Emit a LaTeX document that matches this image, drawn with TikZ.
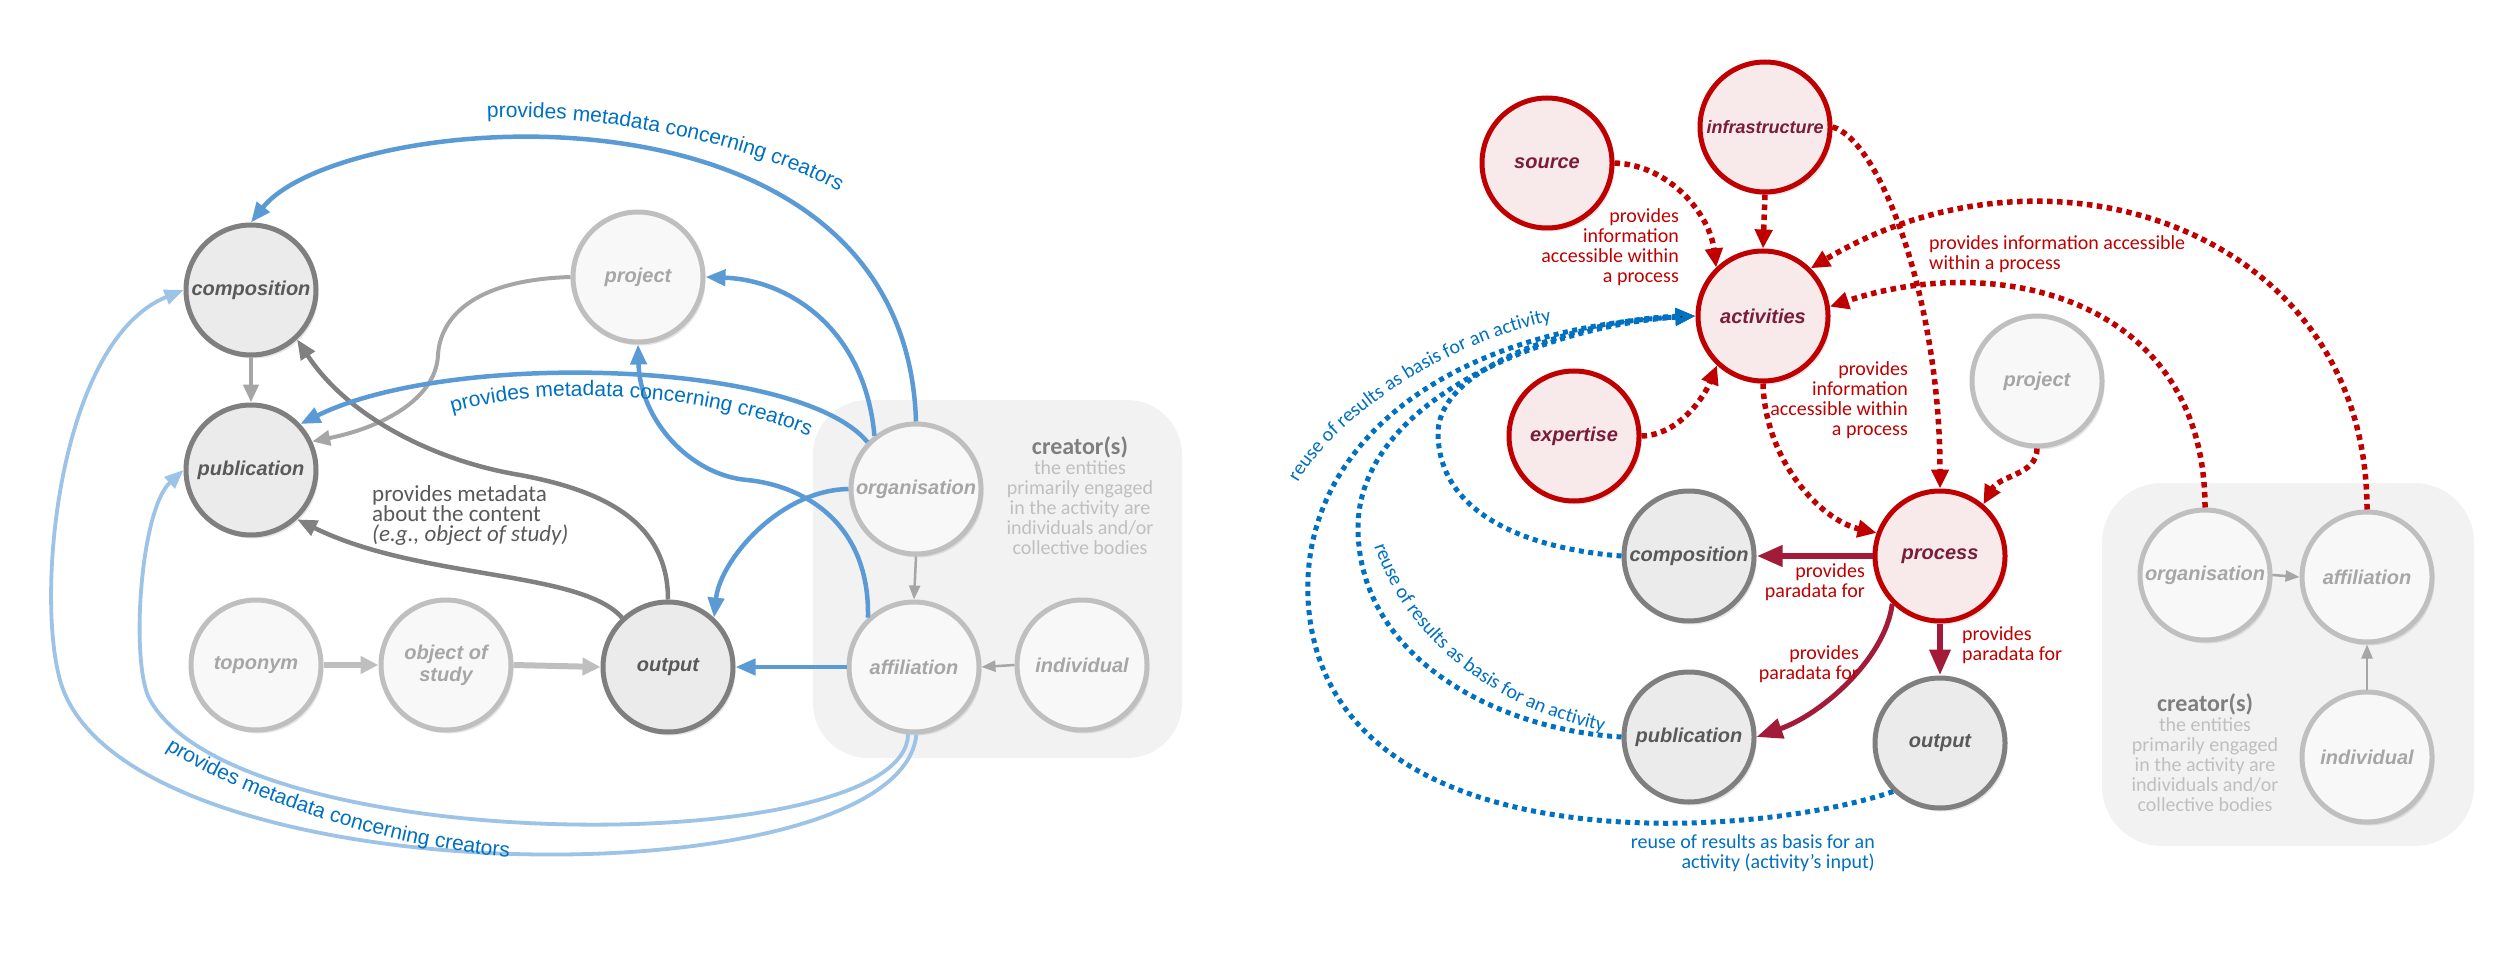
\documentclass[tikz,border=0pt]{standalone}
\usepackage{fontspec}
\setmainfont{Carlito}
\newfontfamily\arialf{Liberation Sans}
\usetikzlibrary{arrows.meta,shadows,decorations.text}
\definecolor{dgS}{HTML}{7F7F7F}
\definecolor{dgF}{HTML}{EBEBEB}
\definecolor{dgT}{HTML}{595959}
\definecolor{lgS}{HTML}{BFBFBF}
\definecolor{lgF}{HTML}{F8F8F8}
\definecolor{lgT}{HTML}{A6A6A6}
\definecolor{rdS}{HTML}{C00000}
\definecolor{rdF}{HTML}{F8EAEA}
\definecolor{rdT}{HTML}{7A1C3B}
\definecolor{mrn}{HTML}{A21C3A}
\definecolor{blueM}{HTML}{5B9BD5}
\definecolor{blueL}{HTML}{9DC3E6}
\definecolor{blueT}{HTML}{0070C0}
\definecolor{blueD}{HTML}{0070C0}
\definecolor{boxF}{HTML}{F2F2F2}
\definecolor{gA}{HTML}{A6A6A6}
\definecolor{gB}{HTML}{808080}
\newcommand\mynodefont{\arialf\bfseries\itshape\fontsize{20}{22}\selectfont}
\newcommand\mylab{\fontsize{20}{20}\selectfont}
\begin{document}
\begin{tikzpicture}[x=1pt,y=-1pt,
  nd/.style={circle, minimum size=130pt, inner sep=0pt, line width=5pt, font=\mynodefont, align=center,
    drop shadow={shadow xshift=2.5pt,shadow yshift=-3.5pt,opacity=.22,fill=black!45}},
  darknd/.style={nd, draw=dgS, fill=dgF, text=dgT},
  lightnd/.style={nd, draw=lgS, fill=lgF, text=lgT},
  rednd/.style={nd, draw=rdS, fill=rdF, text=rdT},
  bl/.style={draw=blueM, line width=4.5pt, -{Triangle[length=20pt,width=16pt]}},
  lbl/.style={draw=blueL, line width=3.8pt, -{Triangle[length=19pt,width=15pt]}},
  gl/.style={draw=gA, line width=4.5pt, -{Triangle[length=18pt,width=15pt]}},
  dg/.style={draw=gB, line width=4.5pt, -{Triangle[length=20pt,width=16pt]}},
  tg/.style={draw=lgS, line width=6pt, -{Triangle[length=18pt,width=17pt]}},
  thg/.style={draw=gA, line width=2.5pt, -{Triangle[length=14pt,width=11pt]}},
  rd/.style={draw=rdS, line width=5.5pt, dash pattern=on 5.5pt off 4.5pt, -{Triangle[length=19pt,width=17pt]}},
  bd/.style={draw=blueD, line width=5pt, dash pattern=on 5pt off 4.5pt, -{Triangle[length=20pt,width=16pt]}},
  mr/.style={draw=mrn, line width=6.5pt, -{Triangle[length=26pt,width=20pt]}},
  rlab/.style={font=\mylab, text=rdS, inner sep=0pt},
  blab/.style={font=\mylab, text=blueT, inner sep=0pt}
]
\fill[white] (0,0) rectangle (2510,965);
\useasboundingbox (0,0) rectangle (2510,965);

% ---------------- LEFT DIAGRAM ----------------
\fill[boxF, rounded corners=55pt] (813,400) rectangle (1182,758);
\node[font=\fontsize{20}{20}\selectfont, text=lgS, align=center, anchor=north, inner sep=0pt] (lcr) at (1080,436)
  {{\fontsize{24}{20}\selectfont\bfseries\color{dgS}creator(s)}\\the entities\\primarily engaged\\in the activity are\\individuals and/or\\collective bodies};

\node[darknd] (comp) at (251,290) {composition};
\node[darknd] (pub) at (251,470) {publication};
\node[lightnd] (proj) at (638,277) {project};
\node[lightnd] (org) at (916,489) {organisation};
\node[lightnd] (aff) at (914,667) {affiliation};
\node[lightnd] (ind) at (1082,665) {individual};
\node[lightnd] (top) at (256,665) {toponym};
\node[lightnd] (obj) at (446,665) {object of\\study};
\node[darknd] (out) at (668,667) {output};

% grey connectors
\draw[gl] (comp.south) -- (pub.north);
\draw[gl, line width=4pt] (proj.west) .. controls (470,280) and (440,320) .. (438,355) .. controls (436,400) and (380,428) .. (pub.25);
\draw[dg] (out.north) .. controls (668,520) and (600,490) .. (520,475) .. controls (440,462) and (350,420) .. (comp.-47);
\draw[dg] (out.133) .. controls (580,570) and (420,580) .. (pub.-47);
\draw[tg] (top.east) -- (obj.west);
\draw[tg] (obj.east) -- (out.west);
\draw[thg] (org.south) -- (aff.north);
\draw[thg] (ind.west) -- (aff.east);

% blue connectors
\draw[bl] (org.north) .. controls (905,60) and (340,110) .. (comp.north);
\draw[bl] (org.128) .. controls (865,330) and (790,280) .. (proj.east);
\draw[bl] (org.136) .. controls (800,360) and (450,350) .. (pub.43);
\draw[bl] (org.west) .. controls (780,490) and (720,560) .. (out.47);
\draw[bl] (aff.133) .. controls (870,520) and (800,485) .. (747,480) .. controls (690,475) and (640,420) .. (proj.south);
\draw[bl] (aff.west) -- (out.east);
\draw[lbl] (aff.-95) .. controls (905,860) and (240,860) .. (150,700) .. controls (130,664) and (140,510) .. (pub.west);
\draw[lbl] (aff.-88) .. controls (900,905) and (120,900) .. (60,680) .. controls (35,590) and (60,340) .. (comp.west);

% left labels
\node[font=\fontsize{23}{20}\selectfont, text=dgT, align=left, anchor=north west, inner sep=0pt] (lann) at (372,485)
  {provides metadata\\about the content\\\textit{(e.g., object of study)}};
\path[decorate, decoration={text along path, text align=center, text color=blueT,
  text={|\arialf\fontsize{21}{21}\selectfont|provides metadata concerning creators}}]
  (480,118) .. controls (600,112) and (760,145) .. (845,195);
\path[decorate, decoration={text along path, text align=center, text color=blueT,
  text={|\arialf\fontsize{21}{21}\selectfont|provides metadata concerning creators}}]
  (428,420) .. controls (530,382) and (710,388) .. (832,446);
\path[decorate, decoration={text along path, text align=center, text color=blueT,
  text={|\arialf\fontsize{21}{21}\selectfont|provides metadata concerning creators}}]
  (150,738) .. controls (220,792) and (390,852) .. (528,858);

% ---------------- RIGHT DIAGRAM ----------------
\fill[boxF, rounded corners=60pt] (2102,483) rectangle (2474,846);
\node[font=\fontsize{20}{20}\selectfont, text=lgS, align=center, anchor=north, inner sep=0pt] (rcr) at (2205,693)
  {{\fontsize{24}{20}\selectfont\bfseries\color{dgS}creator(s)}\\the entities\\primarily engaged\\in the activity are\\individuals and/or\\collective bodies};

\node[rednd] (src) at (1547,163) {source};
\node[rednd, font=\arialf\bfseries\itshape\fontsize{18}{20}\selectfont] (inf) at (1765,127) {infrastructure};
\node[rednd] (act) at (1763,316) {activities};
\node[rednd] (exp) at (1574,436) {expertise};
\node[lightnd] (rproj) at (2037,381) {project};
\node[darknd] (rcomp) at (1689,556) {composition};
\node[rednd] (proc) at (1940,556) {process};
\node[darknd] (rpub) at (1689,737) {publication};
\node[darknd] (rout) at (1940,743) {output};
\node[lightnd] (rorg) at (2205,575) {organisation};
\node[lightnd] (raff) at (2367,577) {affiliation};
\node[lightnd] (rind) at (2367,757) {individual};

\draw[thg] (rorg.east) -- (raff.west);
\draw[thg] (rind.north) -- (raff.south);

% red dotted
\draw[rd] (src.east) .. controls (1670,165) and (1710,215) .. (act.134);
\draw[rd] (inf.south) -- (act.north);
\draw[rd] (inf.east) .. controls (1880,140) and (1940,300) .. (proc.north);
\draw[rd] (rorg.north) .. controls (2205,300) and (2000,250) .. (act.8);
\draw[rd] (raff.north) .. controls (2367,230) and (2050,125) .. (act.45);
\draw[rd] (exp.east) .. controls (1680,435) and (1705,395) .. (act.227);
\draw[rd] (act.south) .. controls (1765,460) and (1820,520) .. (proc.160);
\draw[rd] (rproj.south) .. controls (2037,475) and (2000,475) .. (proc.50);

% maroon solid
\draw[mr] (proc.west) -- (rcomp.east);
\draw[mr, line width=5pt] (proc.225) .. controls (1885,660) and (1820,715) .. (rpub.east);
\draw[mr] (proc.south) -- (rout.north);

% blue dotted
\draw[bd] (rcomp.west) .. controls (1540,550) and (1440,520) .. (1438,435) .. controls (1436,360) and (1600,318) .. (act.west);
\draw[bd] (rpub.west) .. controls (1500,730) and (1360,660) .. (1358,530) .. controls (1356,400) and (1550,325) .. (act.west);
\draw[bd] (rout.226) .. controls (1750,840) and (1345,865) .. (1310,620) .. controls (1288,460) and (1430,330) .. (act.west);

% right labels
\node[rlab, align=right, anchor=east] (rl1) at (1679,247) {provides\\information\\accessible within\\a process};
\node[rlab, align=right, anchor=east] (rl2) at (1908,400) {provides\\information\\accessible within\\a process};
\node[rlab, align=left, anchor=west] (rl3) at (1929,254) {provides information accessible\\within a process};
\node[rlab, align=right, anchor=east] (pl1) at (1865,582) {provides\\paradata for};
\node[rlab, align=right, anchor=east] (pl2) at (1859,664) {provides\\paradata for};
\node[rlab, align=left, anchor=west] (pl3) at (1962,645) {provides\\paradata for};
\node[blab, align=right, anchor=east] (bl3) at (1875,853) {reuse of results as basis for an\\activity (activity's input)};
\path[decorate, decoration={text along path, text align=center, text color=blueT,
  text={|\fontsize{20}{20}\selectfont|reuse of results as basis for an activity}}]
  (1290,500) .. controls (1310,440) and (1430,340) .. (1570,318);
\path[decorate, decoration={text along path, text align=center, text color=blueT,
  text={|\fontsize{20}{20}\selectfont|reuse of results as basis for an activity}}]
  (1368,525) .. controls (1395,635) and (1495,715) .. (1625,735);
\end{tikzpicture}
\end{document}
